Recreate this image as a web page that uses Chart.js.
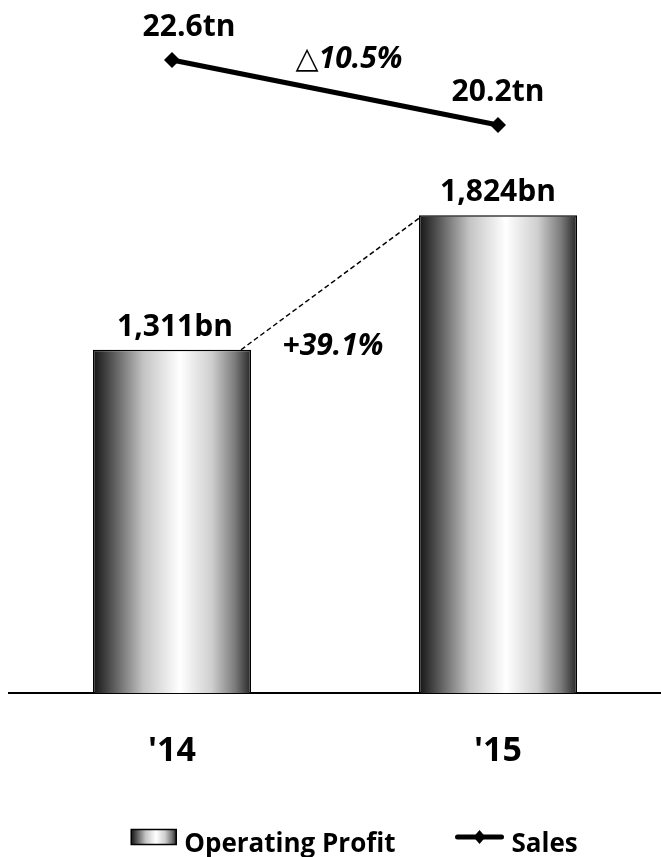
<!DOCTYPE html>
<html><head><meta charset="utf-8">
<script src="https://cdn.jsdelivr.net/npm/chart.js@4/dist/chart.umd.min.js"></script>
<style>html,body{margin:0;padding:0;background:#fff;}canvas{display:block;}</style>
</head><body>
<canvas id="c" width="661" height="857"></canvas>
<script>
const categories = ["'14", "'15"];
const operatingProfit = [1311, 1824];
const sales = [22.6, 20.2];
const profitLabels = ['1,311bn', '1,824bn'];
const salesLabels = ['22.6tn', '20.2tn'];
const profitChange = '+39.1%';
const salesChange = '\u25B310.5%';
const seriesNames = ['Operating Profit', 'Sales'];

const FONT = '"Open Sans", "DejaVu Sans", sans-serif';
const BAR_PCT = 0.485;

function barGradient(ctx, left, right) {
  const g = ctx.createLinearGradient(left, 0, right, 0);
  g.addColorStop(0, '#141414');
  g.addColorStop(0.12, '#555');
  g.addColorStop(0.32, '#c4c4c4');
  g.addColorStop(0.55, '#ffffff');
  g.addColorStop(0.75, '#cfcfcf');
  g.addColorStop(0.9, '#7a7a7a');
  g.addColorStop(1, '#262626');
  return g;
}

function barFill(c) {
  const chart = c.chart;
  const xs = chart.scales && chart.scales.x;
  if (!xs || !chart.chartArea) return '#ccc';
  const center = xs.getPixelForValue(c.dataIndex);
  const w = (xs.width / chart.data.labels.length) * BAR_PCT;
  return barGradient(chart.ctx, center - w / 2, center + w / 2);
}

const decor = {
  id: 'decor',
  afterDatasetsDraw(chart) {
    const ctx = chart.ctx;
    const bars = chart.getDatasetMeta(1).data;
    const pts = chart.getDatasetMeta(0).data;
    ctx.save();
    const b1 = bars[0], b2 = bars[1];
    ctx.strokeStyle = '#000';
    ctx.lineWidth = 1.5;
    ctx.setLineDash([5, 3]);
    ctx.beginPath();
    ctx.moveTo(b1.x + b1.width / 2 - 10, b1.y);
    ctx.lineTo(b2.x - b2.width / 2, b2.y + 3);
    ctx.stroke();
    ctx.setLineDash([]);

    ctx.fillStyle = '#000';
    ctx.textAlign = 'center';
    ctx.textBaseline = 'alphabetic';
    ctx.font = 'bold 30px ' + FONT;
    bars.forEach((el, i) => ctx.fillText(profitLabels[i], el.x + (i === 0 ? 3 : 0), el.y - 14));
    pts.forEach((p, i) => ctx.fillText(salesLabels[i], p.x + (i === 0 ? 17 : 0), p.y - 24));

    ctx.font = 'italic bold 30px ' + FONT;
    ctx.fillText(profitChange, (b1.x + b1.width / 2 + b2.x - b2.width / 2) / 2 - 2, b1.y + 5);
    const mx = (pts[0].x + pts[1].x) / 2, my = (pts[0].y + pts[1].y) / 2;
    ctx.fillText(salesChange, mx + 14, my - 25);
    ctx.restore();
  },
  afterDraw(chart) {
    const ctx = chart.ctx;
    ctx.save();
    ctx.font = 'bold 26px ' + FONT;
    const t1 = ctx.measureText(seriesNames[0]).width;
    const t2 = ctx.measureText(seriesNames[1]).width;
    const boxW = 45, boxH = 15, gap = 8, itemGap = 60, lineW = 48;
    const total = boxW + gap + t1 + itemGap + lineW + gap + t2;
    let x = (chart.width - total) / 2 + 24;
    const base = chart.height - 5;
    const cy = base - 15;
    ctx.fillStyle = barGradient(ctx, x, x + boxW);
    ctx.fillRect(x, cy - boxH / 2, boxW, boxH);
    ctx.strokeStyle = '#000';
    ctx.lineWidth = 1.5;
    ctx.strokeRect(x, cy - boxH / 2, boxW, boxH);
    x += boxW + gap;
    ctx.fillStyle = '#000';
    ctx.textAlign = 'left';
    ctx.textBaseline = 'alphabetic';
    ctx.fillText(seriesNames[0], x, base);
    x += t1 + itemGap;
    ctx.strokeStyle = '#000';
    ctx.lineWidth = 5;
    ctx.lineCap = 'round';
    ctx.beginPath();
    ctx.moveTo(x + 2, cy);
    ctx.lineTo(x + lineW - 2, cy);
    ctx.stroke();
    ctx.beginPath();
    const dx = x + lineW / 2;
    ctx.moveTo(dx, cy - 7); ctx.lineTo(dx + 6, cy); ctx.lineTo(dx, cy + 7); ctx.lineTo(dx - 6, cy); ctx.closePath();
    ctx.fill();
    x += lineW + gap;
    ctx.fillText(seriesNames[1], x, base);
    ctx.restore();
  }
};

new Chart(document.getElementById('c'), {
  data: {
    labels: categories,
    datasets: [
      { type: 'line', label: seriesNames[1], data: sales, yAxisID: 'y2', order: 0,
        borderColor: '#000', backgroundColor: '#000', borderWidth: 5, tension: 0,
        pointStyle: 'rectRot', pointRadius: 8, pointBorderWidth: 0, pointBackgroundColor: '#000', clip: false },
      { type: 'bar', label: seriesNames[0], data: operatingProfit, yAxisID: 'y', order: 1,
        borderColor: '#000', borderWidth: 1.5, borderSkipped: 'start',
        categoryPercentage: 1, barPercentage: BAR_PCT, backgroundColor: barFill }
    ]
  },
  options: {
    responsive: false,
    animation: false,
    events: [],
    layout: { autoPadding: false, padding: { left: 9, right: 0, top: 0, bottom: 47 } },
    plugins: { legend: { display: false }, tooltip: { enabled: false } },
    scales: {
      x: {
        grid: { display: false, drawTicks: false },
        border: { display: true, color: '#000', width: 2 },
        ticks: { color: '#000', padding: 38, font: { family: FONT, weight: 'bold', size: 34 } }
      },
      y: { display: false, min: 0, max: 2646 },
      y2: { display: false, min: -0.775, max: 24.816 }
    }
  },
  plugins: [decor]
});
</script>
</body></html>
